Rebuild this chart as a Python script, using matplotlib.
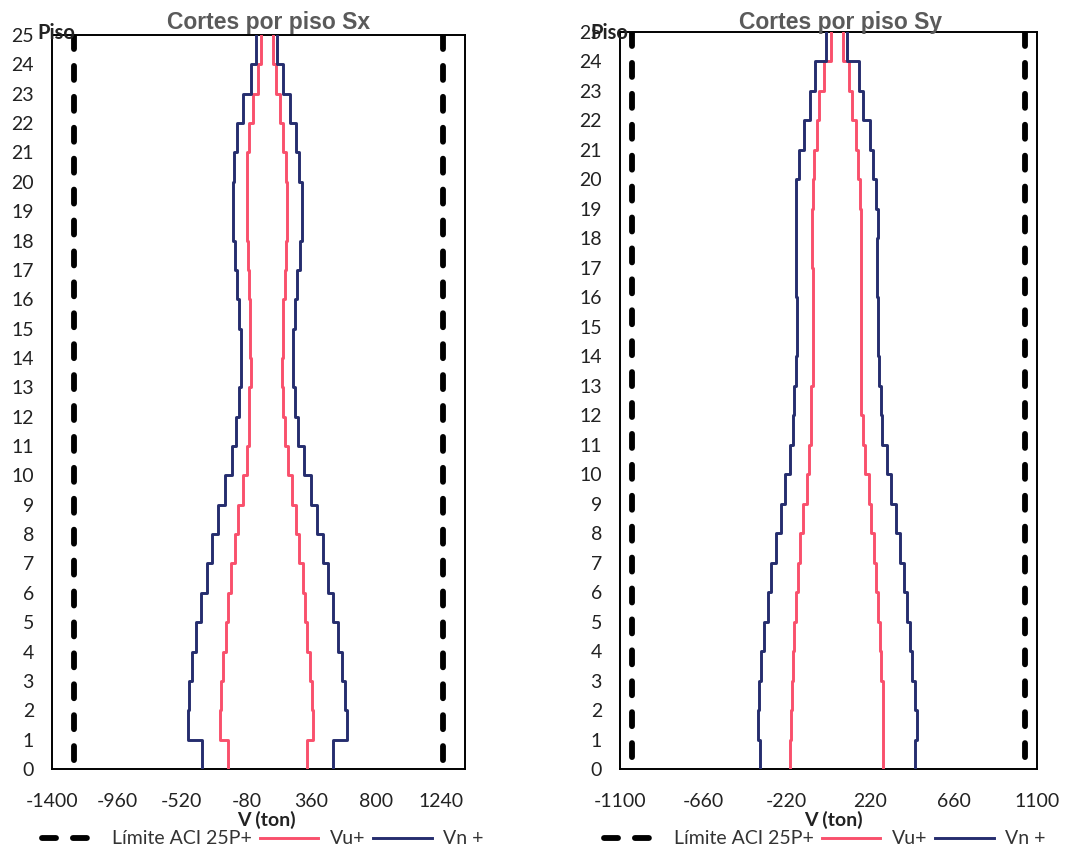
import numpy as np
import matplotlib
matplotlib.use("Agg")
import matplotlib.pyplot as plt
from matplotlib.lines import Line2D

plt.rcParams['font.family'] = ['Lato', 'DejaVu Sans']

# ---------------- data (ton), one value per storey 1..25 ----------------
floors = list(range(0, 26))

# Sx panel
sx_vn_neg = [-385, -476, -469, -453, -424, -392, -351, -317, -273, -227, -182, -153, -132,
             -121, -121, -132, -148, -159, -171, -175, -164, -144, -103, -53, -17]
sx_vu_neg = [-209, -261, -254, -239, -220, -205, -186, -159, -137, -107, -80, -64, -62,
             -53, -58, -61, -66, -69, -76, -80, -76, -64, -35, -5, 19]
sx_vu_pos = [327, 372, 361, 349, 331, 315, 300, 275, 252, 225, 202, 180, 164,
             157, 164, 168, 180, 186, 191, 191, 186, 168, 146, 119, 96]
sx_vn_pos = [503, 598, 586, 564, 541, 507, 473, 435, 395, 354, 308, 270, 247,
             232, 236, 247, 263, 281, 296, 293, 277, 254, 214, 168, 127]
sx_limit = 1250
sx_ticks = [-1400, -960, -520, -80, 360, 800, 1240]
sx_range = (-1400, 1400)

# Sy panel
sy_vn_neg = [-363, -373, -368, -355, -342, -318, -303, -275, -253, -227, -204, -185, -180,
             -169, -166, -165, -169, -172, -174, -169, -157, -130, -99, -69, -11]
sy_vu_neg = [-201, -197, -194, -186, -180, -171, -162, -148, -134, -116, -104, -91, -90,
             -84, -83, -83, -84, -86, -86, -83, -78, -63, -51, -25, 11]
sy_vu_pos = [289, 289, 285, 278, 271, 262, 252, 239, 225, 213, 195, 183, 174,
             172, 172, 172, 172, 173, 173, 165, 155, 143, 125, 107, 78]
sy_vn_pos = [454, 465, 454, 442, 429, 412, 398, 376, 354, 331, 306, 284, 275,
             266, 261, 259, 257, 257, 259, 253, 236, 218, 183, 160, 99]
sy_limit = 1035
sy_ticks = [-1100, -660, -220, 220, 660, 1100]
sy_range = (-1100, 1100)

titles = ["Cortes por piso Sx", "Cortes por piso Sy"]
legend_labels = ["Límite ACI 25P+", "Vu+", "Vn +"]

# ---------------- style ----------------
W, H = 1077, 850
RED = '#F9506C'
NAVY = '#252D6E'
LW = 2.1


def step_xy(vals):
    y = np.repeat(np.arange(len(vals) + 1), 2)[1:-1]
    x = np.repeat(np.asarray(vals, dtype=float), 2)
    return x, y


fig = plt.figure(figsize=(W / 100, H / 100), dpi=100)

panels = [
    dict(rect=(52, 35, 465, 769), data=(sx_vn_neg, sx_vu_neg, sx_vu_pos, sx_vn_pos),
         limit=sx_limit, ticks=sx_ticks, rng=sx_range, title=titles[0],
         title_x=269, piso_x=37, xlabel_x=266, legend_x=263),
    dict(rect=(620, 32, 1037, 769), data=(sy_vn_neg, sy_vu_neg, sy_vu_pos, sy_vn_pos),
         limit=sy_limit, ticks=sy_ticks, rng=sy_range, title=titles[1],
         title_x=841, piso_x=590, xlabel_x=833, legend_x=825),
]

for p in panels:
    x0, y0, x1, y1 = p['rect']
    ax = fig.add_axes([x0 / W, (H - y1) / H, (x1 - x0) / W, (y1 - y0) / H])
    vn_neg, vu_neg, vu_pos, vn_pos = p['data']
    lim = p['limit']
    dash = (0, (2.4, 2.9))
    for s in (-1, 1):
        ax.plot([s * lim, s * lim], [floors[-1], floors[0]], color='black', lw=4.2,
                linestyle=dash, dash_capstyle='round', solid_capstyle='round', zorder=2)
    for vals in (vu_neg, vu_pos):
        xs, ys = step_xy(vals)
        ax.plot(xs, ys, color=RED, lw=LW, zorder=3)
    for vals in (vn_neg, vn_pos):
        xs, ys = step_xy(vals)
        ax.plot(xs, ys, color=NAVY, lw=LW, zorder=4)

    ax.set_xlim(*p['rng'])
    ax.set_ylim(floors[0], floors[-1])
    ax.set_xticks(p['ticks'])
    ax.set_xticklabels([str(t) for t in p['ticks']])
    ax.set_yticks(floors)
    ax.tick_params(axis='both', length=0, labelsize=14, colors='#222222')
    ax.tick_params(axis='x', pad=17)
    ax.tick_params(axis='y', pad=13)
    for sp in ax.spines.values():
        sp.set_linewidth(1.4)
        sp.set_color('black')

    fig.text(p['title_x'] / W, 1 - 22 / H, p['title'], ha='center', va='center',
             fontsize=16.5, fontweight='bold', color='#5a5a5a',
             family=['Liberation Sans', 'DejaVu Sans'])
    fig.text(p['piso_x'] / W, 1 - 33 / H, 'Piso', ha='left', va='center',
             fontsize=14.5, fontweight='bold', color='#222222')
    fig.text(p['xlabel_x'] / W, 1 - 820 / H, 'V (ton)', ha='center', va='center',
             fontsize=14, fontweight='bold', color='#222222')

    handles = [
        Line2D([], [], color='black', lw=4.2, linestyle=(0, (2.4, 2.9)), dash_capstyle='round'),
        Line2D([], [], color=RED, lw=LW),
        Line2D([], [], color=NAVY, lw=LW),
    ]
    fig.legend(handles, legend_labels, loc='center', ncol=3,
               bbox_to_anchor=(p['legend_x'] / W, 1 - 839 / H), frameon=False,
               fontsize=14, handlelength=3.0, handletextpad=0.6, columnspacing=0.4,
               labelcolor='#333333')

fig.savefig('out.png', dpi=100, facecolor='white')
